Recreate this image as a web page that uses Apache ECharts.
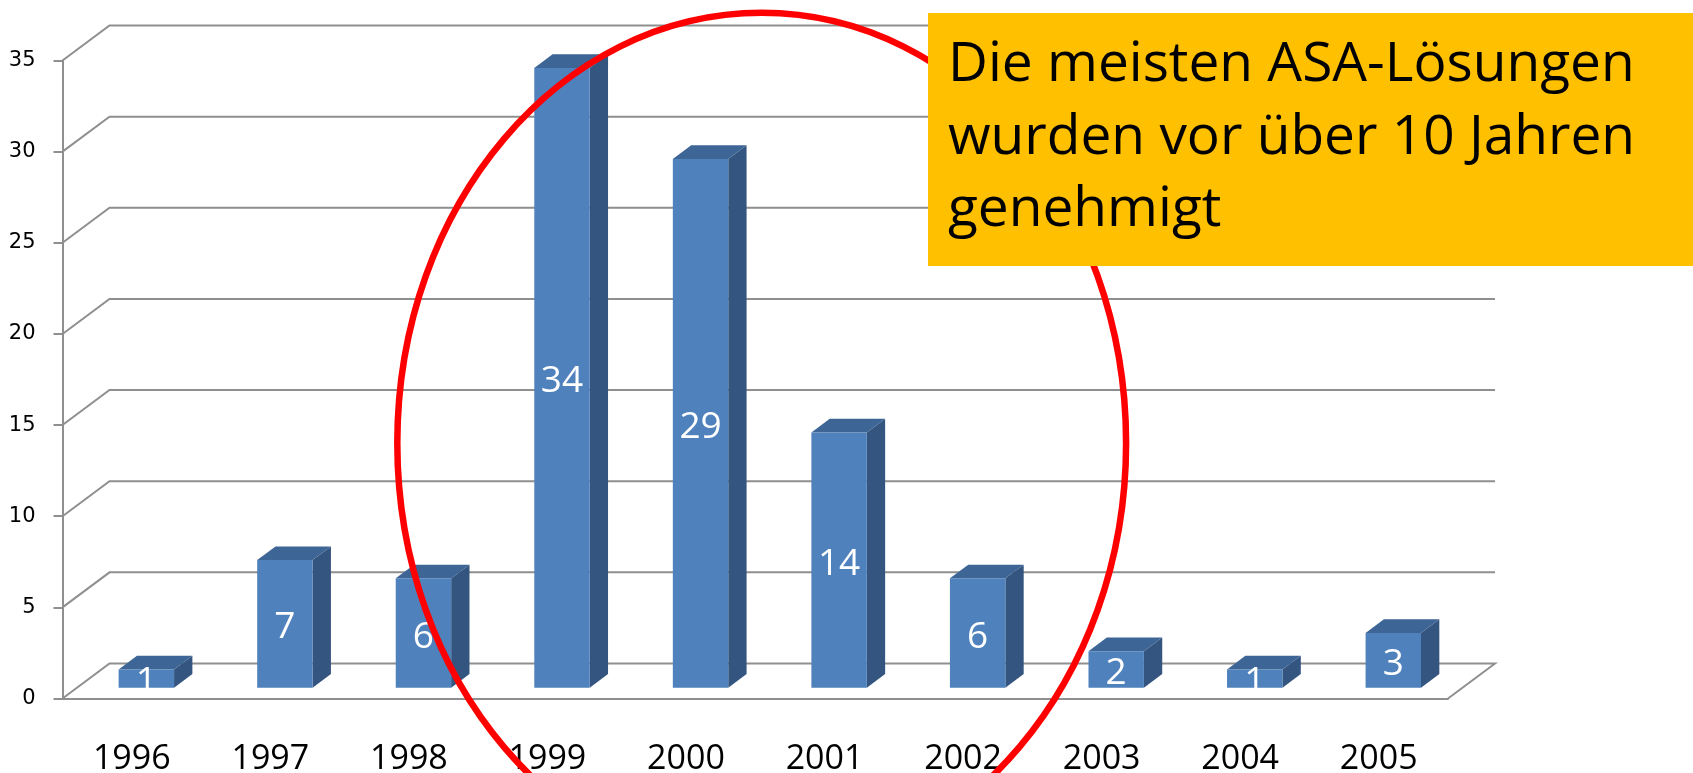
<!DOCTYPE html>
<html><head><meta charset="utf-8">
<script src="https://cdn.jsdelivr.net/npm/echarts@6/dist/echarts.min.js"></script>
<style>html,body{margin:0;padding:0;background:#fff}#c{width:1693px;height:773px}</style>
</head><body><div id="c"></div>
<script>
const categories = ['1996','1997','1998','1999','2000','2001','2002','2003','2004','2005'];
const values = [1, 7, 6, 34, 29, 14, 6, 2, 1, 3];
const yTicks = [0, 5, 10, 15, 20, 25, 30, 35];
const noteLines = ['Die meisten ASA-Lösungen', 'wurden vor über 10 Jahren', 'genehmigt'];

const DX = 47, DY = 35;          // depth offset of back wall
const F0 = 0.31, F1 = 0.70;      // bar depth range (fraction)
const GRID_COL = '#8f8f8f';

const chart = echarts.init(document.getElementById('c'), null, {renderer: 'canvas'});
chart.setOption({
  animation: false,
  grid: {left: 62.5, top: 60.5, width: 1385.5, height: 638, containLabel: false, outerBoundsMode: 'none'},
  xAxis: {
    type: 'category', data: categories,
    axisLine: {lineStyle: {color: GRID_COL, width: 2}},
    axisTick: {length: 11, lineStyle: {color: GRID_COL, width: 2}},
    axisLabel: {color: '#000', fontFamily: 'Open Sans', fontSize: 34, lineHeight: 34, margin: 44}
  },
  yAxis: {
    type: 'value', min: 0, max: 35, interval: 5,
    axisLine: {show: true, lineStyle: {color: GRID_COL, width: 2}},
    axisTick: {show: true, length: 9, lineStyle: {color: GRID_COL, width: 2}},
    splitLine: {show: false},
    axisLabel: {color: '#000', fontFamily: 'DejaVu Sans', fontSize: 21, margin: 27}
  },
  series: [
    {
      type: 'custom', z: 1, silent: true,
      data: yTicks.map(v => [0, v]),
      encode: {x: 0, y: 1},
      renderItem(params, api) {
        const cs = params.coordSys;
        const v = api.value(1);
        const y = api.coord([0, v])[1];
        const pts = [[cs.x, y], [cs.x + DX, y - DY], [cs.x + cs.width + DX, y - DY]];
        if (v === 0) pts.push([cs.x + cs.width, y]);
        return {type: 'polyline', shape: {points: pts},
          style: {stroke: GRID_COL, lineWidth: 2, fill: null}};
      }
    },
    {
      type: 'custom', z: 3,
      data: values.map((v, i) => [i, v]),
      encode: {x: 0, y: 1},
      renderItem(params, api) {
        const i = api.value(0), v = api.value(1);
        const base = api.coord([i, 0]);
        const top = api.coord([i, v]);
        const bw = api.size([1, 0])[0] * 0.4;
        const ox = F0 * DX, oy = F0 * DY;
        const dx = (F1 - F0) * DX, dy = (F1 - F0) * DY;
        const x0 = base[0] - bw / 2 + ox, x1 = x0 + bw;
        const yB = base[1] - oy, yT = top[1] - oy;
        return {type: 'group', children: [
          {type: 'polygon', shape: {points: [[x1, yB], [x1 + dx, yB - dy], [x1 + dx, yT - dy], [x1, yT]]},
            style: {fill: '#34557f'}},
          {type: 'polygon', shape: {points: [[x0, yT], [x1, yT], [x1 + dx, yT - dy], [x0 + dx, yT - dy]]},
            style: {fill: '#3d6595'}},
          {type: 'rect', shape: {x: x0, y: yT, width: bw, height: yB - yT},
            style: {fill: '#4f81bd'}},
          {type: 'text', x: (x0 + x1) / 2, y: (yT + yB) / 2 + 4,
            style: {text: String(v), fill: '#fff', font: '37px "Open Sans"', align: 'center', verticalAlign: 'middle'}}
        ]};
      }
    }
  ],
  graphic: [
    {type: 'ellipse', z: 100, shape: {cx: 761.7, cy: 443, rx: 364.4, ry: 430.2},
      style: {fill: null, stroke: '#ff0000', lineWidth: 6.5}},
    {type: 'rect', z: 110, shape: {x: 928, y: 13, width: 765, height: 253}, style: {fill: '#ffc000'}},
    {type: 'text', z: 111, x: 948, y: 65, style: {text: noteLines[0], fill: '#000', font: '55px "Open Sans"', verticalAlign: 'middle'}},
    {type: 'text', z: 111, x: 948, y: 138, style: {text: noteLines[1], fill: '#000', font: '55px "Open Sans"', verticalAlign: 'middle'}},
    {type: 'text', z: 111, x: 948, y: 210, style: {text: noteLines[2], fill: '#000', font: '55px "Open Sans"', verticalAlign: 'middle'}}
  ]
});
</script></body></html>
